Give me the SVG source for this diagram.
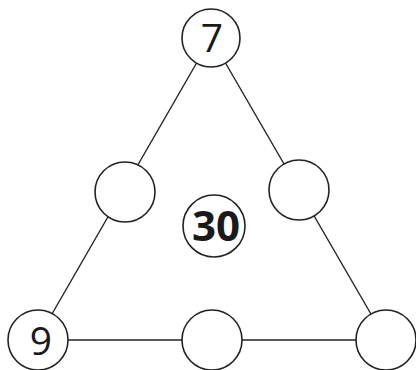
<svg xmlns="http://www.w3.org/2000/svg" width="416" height="370" viewBox="0 0 416 370">
<style>
circle{fill:#fff;stroke:#222;stroke-width:1.6}
.e{stroke:#222;stroke-width:1.4;fill:none}
text{font-family:"Open Sans","Liberation Sans",sans-serif;font-size:39px;fill:#1a1a1a;text-anchor:middle}
.b{font-weight:bold;font-size:42px}
</style>
<rect width="416" height="370" fill="#fff"/>
<g id="connectors">
<line class="e" x1="211" y1="38" x2="37" y2="340"/>
<line class="e" x1="211" y1="38" x2="386" y2="340"/>
<line class="e" x1="37" y1="340" x2="386" y2="340"/>
</g>
<g id="n-top"><circle cx="211" cy="38" r="29"/><text x="212" y="52">7</text></g>
<g id="n-left"><circle cx="125" cy="192" r="30"/></g>
<g id="n-right"><circle cx="299" cy="190" r="30"/></g>
<g id="n-center"><circle cx="214" cy="226" r="31"/><text class="b" x="216" y="241">30</text></g>
<g id="n-bl"><circle cx="38" cy="340" r="30"/><text x="41" y="355">9</text></g>
<g id="n-bm"><circle cx="212" cy="340" r="30"/></g>
<g id="n-br"><circle cx="386" cy="340" r="30"/></g>
</svg>
